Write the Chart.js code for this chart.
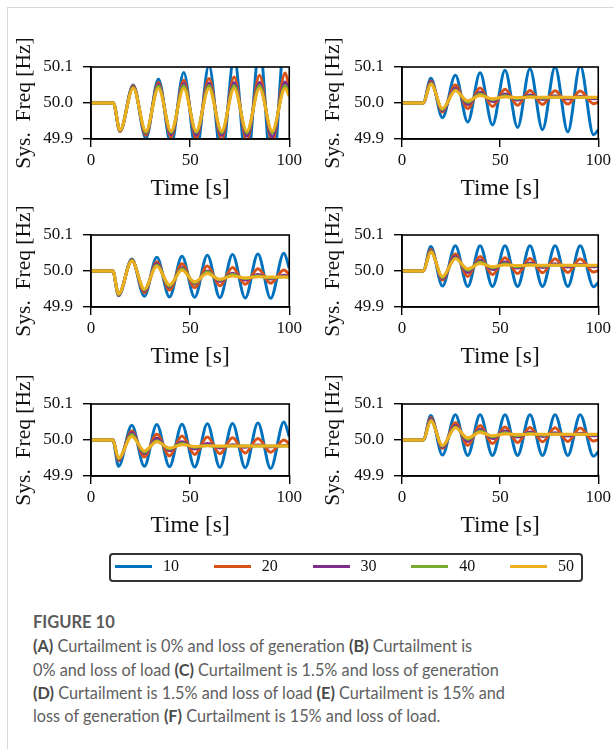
<!DOCTYPE html>
<html>
<head>
<meta charset="utf-8">
<script src="https://cdn.jsdelivr.net/npm/chart.js@4.4.1/dist/chart.umd.min.js"></script>
<style>
  html, body { margin: 0; padding: 0; background: #fff; }
  #fig { position: relative; width: 614px; height: 749px; overflow: hidden; background: #fff; }
  #frame { position: absolute; left: 7px; top: 7px; width: 640px; height: 800px;
           border-top: 1px solid #d9d9d9; border-left: 1px solid #d9d9d9; }
  canvas { position: absolute; }
  #legendBox { position: absolute; left: 109px; top: 553px; width: 474px; height: 29px;
               box-sizing: border-box; border: 2px solid #333; border-radius: 4px; }
  .swatch { position: absolute; height: 2.5px; width: 37px; }
  .ltext { position: absolute; font-family: "Liberation Serif", serif; font-size: 16px; color: #111;
           line-height: 20px; }
  #caption { position: absolute; left: 33px; top: 610px; font-family: Lato, sans-serif;
             font-size: 16.3px; line-height: 23.3px; color: #606060; white-space: nowrap; }
  #caption .fig { font-size: 16.5px; font-weight: 700; color: #5a5a5a; }
  #caption b { color: #4a4a4a; }
</style>
</head>
<body>
<div id="fig">
  <div id="frame"></div>
  <canvas id="pA" width="305" height="181" style="left:0px;top:27px"></canvas>
  <canvas id="pB" width="309" height="181" style="left:305px;top:27px"></canvas>
  <canvas id="pC" width="305" height="181" style="left:0px;top:195px"></canvas>
  <canvas id="pD" width="309" height="181" style="left:305px;top:195px"></canvas>
  <canvas id="pE" width="305" height="181" style="left:0px;top:364px"></canvas>
  <canvas id="pF" width="309" height="181" style="left:305px;top:364px"></canvas>
  <div id="legendBox"></div>
  <div id="caption">
    <span class="fig">FIGURE 10</span><br>
    <b>(A)</b> Curtailment is 0% and loss of generation <b>(B)</b> Curtailment is<br>
    0% and loss of load <b>(C)</b> Curtailment is 1.5% and loss of generation<br>
    <b>(D)</b> Curtailment is 1.5% and loss of load <b>(E)</b> Curtailment is 15% and<br>
    loss of generation <b>(F)</b> Curtailment is 15% and loss of load.
  </div>
</div>
<script>
// Series names and line colours
const seriesLabels = ['10', '20', '30', '40', '50'];
const seriesColors = ['#0072BD', '#D95319', '#7E2F8E', '#77AC30', '#EDB120'];

// Axis ticks
const timeTicks = [0, 50, 100];
const freqTicks = [49.9, 50.0, 50.1];

// (A) 0% curtailment, loss of generation: time [s] of turning points
const tA = [0, 11.3, 14.6, 21.3, 27.7, 34.0, 40.4, 46.8, 53.1, 59.5, 65.9, 72.2, 78.6, 85.0, 91.4, 97.9, 100];
const a10 = [50, 50, 49.922, 50.05, 49.902, 50.067, 49.885, 50.085, 49.865, 50.105, 49.845, 50.128, 49.82, 50.155, 49.79, 50.185, 50.1];
const a20 = [50, 50, 49.921, 50.048, 49.91, 50.057, 49.905, 50.063, 49.902, 50.068, 49.898, 50.072, 49.895, 50.077, 49.892, 50.083, 50.045];
const a30 = [50, 50, 49.922, 50.045, 49.915, 50.052, 49.912, 50.054, 49.91, 50.055, 49.91, 50.056, 49.908, 50.057, 49.906, 50.058, 50.03];
const a40 = [50, 50, 49.923, 50.043, 49.918, 50.047, 49.918, 50.048, 49.918, 50.048, 49.917, 50.048, 49.917, 50.048, 49.917, 50.048, 50.024];
const a50 = [50, 50, 49.925, 50.041, 49.922, 50.04, 49.922, 50.04, 49.922, 50.04, 49.922, 50.04, 49.922, 50.04, 49.922, 50.04, 50.018];

// (B) 0% curtailment, loss of load
const tB = [0, 10.8, 14.7, 20.6, 27.2, 33.5, 39.8, 46.1, 52.5, 58.9, 65.2, 71.6, 78.0, 84.5, 90.8, 97.6, 100];
const b10 = [50, 50, 50.069, 49.959, 50.077, 49.947, 50.084, 49.939, 50.091, 49.932, 50.095, 49.926, 50.1, 49.92, 50.104, 49.912, 49.925];
const b20 = [50, 50, 50.061, 49.975, 50.05, 49.985, 50.042, 49.99, 50.038, 49.994, 50.035, 49.996, 50.034, 49.997, 50.033, 49.998, 50.002];
const b30 = [50, 50, 50.058, 49.979, 50.041, 49.996, 50.03, 50.004, 50.025, 50.008, 50.022, 50.01, 50.02, 50.011, 50.019, 50.012, 50.013];
const b40 = [50, 50, 50.055, 49.982, 50.036, 50.002, 50.025, 50.009, 50.02, 50.012, 50.018, 50.014, 50.017, 50.015, 50.016, 50.015, 50.016];
const b50 = [50, 50, 50.053, 49.985, 50.034, 50.006, 50.021, 50.012, 50.017, 50.015, 50.016, 50.016, 50.016, 50.016, 50.016, 50.016, 50.016];

// (C) 1.5% curtailment, loss of generation
const tC = [0, 11, 13.9, 20.6, 26.9, 33.2, 39.6, 45.9, 52.3, 58.7, 65.0, 71.4, 77.8, 84.2, 90.6, 97.3, 100];
const c10 = [50, 50, 49.931, 50.033, 49.93, 50.038, 49.928, 50.041, 49.927, 50.044, 49.926, 50.046, 49.925, 50.047, 49.924, 50.049, 50.008];
const c20 = [50, 50, 49.933, 50.031, 49.94, 50.025, 49.947, 50.02, 49.954, 50.014, 49.959, 50.01, 49.963, 50.006, 49.966, 50.003, 49.99];
const c30 = [50, 50, 49.934, 50.03, 49.945, 50.02, 49.955, 50.01, 49.964, 50.0, 49.971, 49.994, 49.975, 49.99, 49.978, 49.988, 49.985];
const c40 = [50, 50, 49.935, 50.029, 49.948, 50.016, 49.958, 50.006, 49.967, 49.997, 49.975, 49.99, 49.979, 49.986, 49.981, 49.984, 49.983];
const c50 = [50, 50, 49.936, 50.028, 49.95, 50.013, 49.962, 50.002, 49.97, 49.993, 49.977, 49.986, 49.981, 49.984, 49.983, 49.983, 49.983];

// (D) 1.5% curtailment, loss of load
const tD = [0, 10.8, 14.7, 20.6, 27.2, 33.5, 39.8, 46.1, 52.5, 58.9, 65.2, 71.6, 78.0, 84.5, 90.8, 97.6, 100];
const d10 = [50, 50, 50.068, 49.958, 50.07, 49.957, 50.07, 49.957, 50.07, 49.957, 50.07, 49.957, 50.07, 49.957, 50.07, 49.956, 49.968];
const d20 = [50, 50, 50.06, 49.975, 50.047, 49.985, 50.04, 49.99, 50.037, 49.993, 50.035, 49.995, 50.034, 49.996, 50.033, 49.997, 50.001];
const d30 = [50, 50, 50.057, 49.979, 50.04, 49.996, 50.03, 50.004, 50.025, 50.008, 50.022, 50.01, 50.02, 50.011, 50.019, 50.012, 50.013];
const d40 = [50, 50, 50.055, 49.982, 50.036, 50.002, 50.025, 50.009, 50.02, 50.012, 50.018, 50.014, 50.017, 50.015, 50.016, 50.015, 50.016];
const d50 = [50, 50, 50.053, 49.985, 50.034, 50.006, 50.021, 50.012, 50.017, 50.015, 50.016, 50.016, 50.016, 50.016, 50.016, 50.016, 50.016];

// (E) 15% curtailment, loss of generation
const tE = [0, 11, 13.9, 20.6, 26.9, 33.2, 39.6, 45.9, 52.3, 58.7, 65.0, 71.4, 77.8, 84.2, 90.6, 97.3, 100];
const e10 = [50, 50, 49.927, 50.041, 49.927, 50.043, 49.926, 50.044, 49.925, 50.045, 49.924, 50.046, 49.923, 50.047, 49.921, 50.05, 50.01];
const e20 = [50, 50, 49.943, 50.025, 49.953, 50.016, 49.956, 50.011, 49.96, 50.008, 49.962, 50.006, 49.964, 50.004, 49.966, 50.0, 49.99];
const e30 = [50, 50, 49.946, 50.02, 49.962, 50.005, 49.97, 49.995, 49.975, 49.99, 49.978, 49.987, 49.98, 49.986, 49.981, 49.985, 49.984];
const e40 = [50, 50, 49.948, 50.015, 49.966, 49.998, 49.975, 49.99, 49.98, 49.985, 49.982, 49.984, 49.983, 49.983, 49.983, 49.983, 49.983];
const e50 = [50, 50, 49.95, 50.01, 49.97, 49.995, 49.978, 49.987, 49.982, 49.984, 49.983, 49.983, 49.983, 49.983, 49.983, 49.983, 49.983];

// (F) 15% curtailment, loss of load
const tF = [0, 10.8, 14.7, 20.6, 27.2, 33.5, 39.8, 46.1, 52.5, 58.9, 65.2, 71.6, 78.0, 84.5, 90.8, 97.6, 100];
const f10 = [50, 50, 50.068, 49.958, 50.07, 49.957, 50.07, 49.957, 50.07, 49.957, 50.07, 49.957, 50.07, 49.957, 50.07, 49.955, 49.967];
const f20 = [50, 50, 50.062, 49.977, 50.048, 49.985, 50.04, 49.99, 50.036, 49.993, 50.035, 49.995, 50.034, 49.996, 50.033, 49.997, 50.001];
const f30 = [50, 50, 50.058, 49.98, 50.04, 49.996, 50.03, 50.004, 50.025, 50.008, 50.022, 50.01, 50.02, 50.011, 50.019, 50.012, 50.013];
const f40 = [50, 50, 50.055, 49.983, 50.036, 50.002, 50.025, 50.009, 50.02, 50.012, 50.018, 50.014, 50.017, 50.015, 50.016, 50.015, 50.016];
const f50 = [50, 50, 50.053, 49.985, 50.034, 50.006, 50.021, 50.012, 50.017, 50.015, 50.016, 50.016, 50.016, 50.016, 50.016, 50.016, 50.016];

Chart.defaults.font.family = '"Liberation Serif", "Times New Roman", serif';
Chart.defaults.color = '#111';

// Full box around the plotting area, drawn above the curves
const boxFrame = {
  id: 'boxFrame',
  afterDatasetsDraw(chart) {
    const a = chart.chartArea, ctx = chart.ctx;
    ctx.save();
    ctx.strokeStyle = '#000';
    ctx.lineWidth = 1.6;
    ctx.strokeRect(a.left, a.top, a.right - a.left, a.bottom - a.top);
    ctx.restore();
  }
};

// One panel: five series sampled at the panel's turning-point times
function panel(id, times, seriesList, leftCol) {
  const datasets = seriesList.map((vals, i) => ({
    label: seriesLabels[i],
    data: times.map((t, k) => ({ x: t, y: vals[k] })),
    borderColor: seriesColors[i],
    borderWidth: 3,
    pointRadius: 0,
    fill: false,
    cubicInterpolationMode: 'monotone',
    clip: 0,
    order: seriesList.length - 1 - i
  }));
  const yWidth = leftCol ? 91 : 97;
  return new Chart(document.getElementById(id), {
    type: 'line',
    data: { datasets },
    plugins: [boxFrame],
    options: {
      responsive: false,
      animation: false,
      devicePixelRatio: 1,
      layout: { padding: { top: 40, right: leftCol ? 14 : 13, bottom: 0, left: 0 } },
      plugins: { legend: { display: false }, tooltip: { enabled: false } },
      scales: {
        x: {
          type: 'linear', min: 0, max: 100,
          afterBuildTicks: s => { s.ticks = timeTicks.map(v => ({ value: v })); },
          afterFit: s => { s.height = 69; },
          ticks: { font: { size: 17 }, padding: 3, maxRotation: 0, color: '#111' },
          grid: { drawOnChartArea: false, drawTicks: true, tickLength: 8, color: '#000', lineWidth: 1.4 },
          border: { display: true, color: '#000', width: 1.6 },
          title: { display: true, text: 'Time [s]', font: { size: 23.5 }, color: '#111', padding: { top: 0, bottom: 5 } }
        },
        y: {
          type: 'linear', min: 49.9, max: 50.1,
          afterBuildTicks: s => { s.ticks = freqTicks.map(v => ({ value: v })); },
          afterFit: s => { s.width = yWidth; },
          ticks: { font: { size: 17 }, padding: 10, color: '#111', callback: v => Number(v).toFixed(1) },
          grid: { drawOnChartArea: false, drawTicks: true, tickLength: 8, color: '#000', lineWidth: 1.4 },
          border: { display: true, color: '#000', width: 1.6 },
          title: { display: true, text: 'Sys.  Freq [Hz]', font: { size: 21.5 }, color: '#111', padding: { top: leftCol ? 11 : 15, bottom: 0 } }
        }
      }
    }
  });
}

panel('pA', tA, [a10, a20, a30, a40, a50], true);
panel('pB', tB, [b10, b20, b30, b40, b50], false);
panel('pC', tC, [c10, c20, c30, c40, c50], true);
panel('pD', tD, [d10, d20, d30, d40, d50], false);
panel('pE', tE, [e10, e20, e30, e40, e50], true);
panel('pF', tF, [f10, f20, f30, f40, f50], false);

// Legend row built from the series names and colours
const fig = document.getElementById('fig');
seriesLabels.forEach((name, i) => {
  const x = 115 + i * 98.75;
  const sw = document.createElement('div');
  sw.className = 'swatch';
  sw.style.left = x + 'px';
  sw.style.top = '565px';
  sw.style.background = seriesColors[i];
  fig.appendChild(sw);
  const tx = document.createElement('div');
  tx.className = 'ltext';
  tx.style.left = (x + 48) + 'px';
  tx.style.top = '556px';
  tx.textContent = name;
  fig.appendChild(tx);
});
</script>
</body>
</html>
